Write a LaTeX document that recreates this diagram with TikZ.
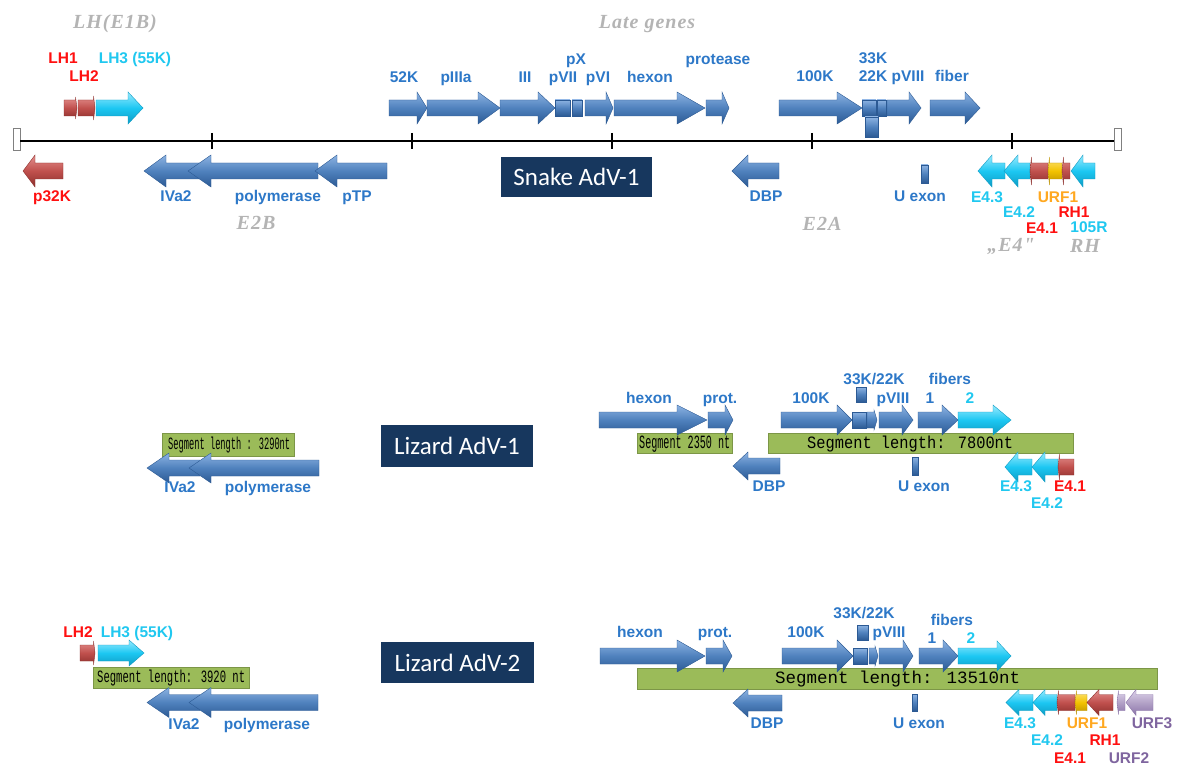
\documentclass[tikz,border=0pt]{standalone}
\usepackage{fontspec}
\setmainfont{Liberation Sans}
\newfontfamily\carl{Carlito}
\newfontfamily\serf{Liberation Serif}[LetterSpace=5]
\newfontfamily\monof{Liberation Mono}
\usepackage{graphicx}
\definecolor{gBlue}{HTML}{4F81BD}
\definecolor{gBlueL}{HTML}{8DB3E2}
\definecolor{gBlueD}{HTML}{2C5A94}
\definecolor{gCyan}{HTML}{1CC7F2}
\definecolor{gCyanL}{HTML}{9AEBFF}
\definecolor{gCyanD}{HTML}{0E9CC4}
\definecolor{gRed}{HTML}{C0504D}
\definecolor{gRedL}{HTML}{E4908E}
\definecolor{gRedD}{HTML}{8C2F2C}
\definecolor{gYel}{HTML}{F2C200}
\definecolor{gYelL}{HTML}{FFE680}
\definecolor{gYelD}{HTML}{B88E00}
\definecolor{gPur}{HTML}{B3A2C7}
\definecolor{gPurL}{HTML}{DDD3EA}
\definecolor{gPurD}{HTML}{8A73A8}
\definecolor{tBlue}{HTML}{2D78C8}
\definecolor{tCyan}{HTML}{20C8F0}
\definecolor{tRed}{HTML}{FF1010}
\definecolor{tOrg}{HTML}{FFA820}
\definecolor{tPur}{HTML}{7F659F}
\definecolor{tGray}{HTML}{B4B4B4}
\definecolor{navy}{HTML}{17375E}
\definecolor{segG}{HTML}{9BBB59}
% gene arrow: style, tail x, tip x, centre y, head length, head half-height
\newcommand\gene[6]{%
  \pgfmathsetmacro\gS{(#3>#2)*2-1}%
  \pgfmathsetmacro\gH{#3-\gS*#5}%
  \path[#1] (#2,#4-8) -- (\gH,#4-8) -- (\gH,#4-#6) -- (#3,#4) -- (\gH,#4+#6) -- (\gH,#4+8) -- (#2,#4+8) -- cycle;}
% gene box: style, x1, x2, centre y, half-height
\newcommand\gbox[5]{\path[#1] (#2,#4-#5) rectangle (#3,#4+#5);}
\tikzset{
  gb/.style={top color=gBlueL, bottom color=gBlueD, middle color=gBlue, draw=gBlueD, line width=0.4pt},
  gc/.style={top color=gCyanL, bottom color=gCyanD, middle color=gCyan, draw=gCyanD, line width=0.4pt},
  gr/.style={top color=gRedL, bottom color=gRedD, middle color=gRed, draw=gRedD, line width=0.4pt},
  gy/.style={top color=gYelL, bottom color=gYelD, middle color=gYel, draw=gYelD, line width=0.4pt},
  gp/.style={top color=gPurL, bottom color=gPurD, middle color=gPur, draw=gPurD, line width=0.4pt},
  lab/.style={inner sep=0pt, anchor=base, yshift=-5.5pt, font=\fontsize{15.5}{16}\selectfont\bfseries},
  lb/.style={lab, text=tBlue},
  lc/.style={lab, text=tCyan},
  lr/.style={lab, text=tRed},
  lo/.style={lab, text=tOrg},
  lpu/.style={lab, text=tPur},
  lg/.style={inner sep=0pt, anchor=base, yshift=-6.6pt, text=tGray, font=\serf\fontsize{20}{20}\selectfont\bfseries\itshape},
  ttl/.style={fill=navy, text=white, inner sep=0pt, font=\carl\fontsize{25}{25}\selectfont},
  segbox/.style={fill=segG, draw=segG!80!black, line width=0.3pt, inner sep=0pt},
  segtxt/.style={inner sep=0pt, anchor=west, yshift=-1pt},
  capbox/.style={draw=gray, fill=white, line width=0.8pt, inner sep=0pt, minimum width=7pt, minimum height=22pt},
  tick/.style={line width=1.3pt}
}
\begin{document}
\begin{tikzpicture}[x=1pt,y=-1pt]
\useasboundingbox[fill=white] (0,0) rectangle (1181,765);

% ================= Snake AdV-1 =================
\node[capbox] (capL) at (16.5,139.5) {};
\node[capbox] (capR) at (1118,139.5) {};
\draw[line width=1.6pt] (capL.east |- 0,141) -- (capR.west |- 0,141);
\foreach \t in {212,412,612,812,1012} \draw[tick] (\t,133) -- (\t,149);

% top genes
\gene{gr}{64}{77}{108}{1.5}{11}
\gene{gr}{78}{95}{108}{1.5}{12}
\gene{gc}{96}{143}{108}{15}{16}
\gene{gb}{389}{427}{108}{10}{16}
\gene{gb}{427}{500}{108}{22}{16}
\gene{gb}{500}{555}{108}{17}{16}
\gbox{gb}{555}{570}{108}{8}
\gbox{gb}{572}{582}{108}{8}
\gene{gb}{585}{613}{108}{7}{16}
\gene{gb}{614}{705}{108}{28}{16}
\gene{gb}{706}{729}{108}{7}{16}
\gene{gb}{779}{862}{108}{25}{16}
\gbox{gb}{862}{876}{108}{8}
\gbox{gb}{877}{886}{108}{8}
\gbox{gb}{865}{878}{127}{10}
\gene{gb}{887}{921}{108}{12}{16}
\gene{gb}{930}{980}{108}{15}{16}

% bottom genes
\gene{gr}{63}{23}{171}{12}{16}
\gene{gb}{200}{144}{171}{22}{16}
\gene{gb}{318}{188}{171}{23}{16}
\gene{gb}{387}{315}{171}{22}{16}
\gene{gb}{779}{732}{171}{16}{16}
\gbox{gb}{921}{928}{174}{9}
\gene{gc}{1005}{978}{171}{14}{16}
\gene{gc}{1030}{1004}{171}{14}{16}
\gene{gr}{1048}{1030}{171}{1.5}{14}
\gene{gy}{1062}{1048}{171}{1.5}{14}
\gene{gr}{1070}{1062}{171}{1.5}{14}
\gene{gc}{1095}{1071}{171}{12}{16}

\node[ttl, minimum width=151pt, minimum height=40pt] (snake) at (576.5,177) {Snake AdV-1};

% labels
\node[lg] (gLH) at (115,22) {LH(E1B)};
\node[lg] (gLate) at (647,22) {Late genes};
\node[lg] (gE2B) at (256,223) {E2B};
\node[lg] (gE2A) at (822,224) {E2A};
\node[lg] (gE4) at (1011,245) {„E4"};
\node[lg] (gRH) at (1085,246) {RH};

\node[lr] (sLH1) at (63,58) {LH1};
\node[lr] (sLH2) at (84,76) {LH2};
\node[lc] (sLH3) at (135,58) {LH3 (55K)};
\node[lb] (s52K) at (404,77) {52K};
\node[lb] (spIIIa) at (456,77) {pIIIa};
\node[lb] (sIII) at (525,77) {III};
\node[lb] (spX) at (576,59) {pX};
\node[lb] (spVII) at (563,77) {pVII};
\node[lb] (spVI) at (598,77) {pVI};
\node[lb] (shexon) at (650,77) {hexon};
\node[lb] (sprot) at (718,59) {protease};
\node[lb] (s100K) at (815,76) {100K};
\node[lb] (s33K) at (873,58) {33K};
\node[lb] (s22K) at (873,76) {22K};
\node[lb] (spVIII) at (908,76) {pVIII};
\node[lb] (sfiber) at (952,76) {fiber};

\node[lr] (sp32K) at (52,196) {p32K};
\node[lb] (sIVa2) at (176,196) {IVa2};
\node[lb] (spol) at (278,196) {polymerase};
\node[lb] (spTP) at (357,196) {pTP};
\node[lb] (sDBP) at (766,196) {DBP};
\node[lb] (sUex) at (920,196) {U exon};
\node[lc] (sE43) at (987,197) {E4.3};
\node[lo] (sURF1) at (1058,197) {URF1};
\node[lc] (sE42) at (1019,212) {E4.2};
\node[lr] (sRH1) at (1074,212) {RH1};
\node[lr] (sE41) at (1042,228) {E4.1};
\node[lc] (s105R) at (1089,227) {105R};

% ================= Lizard AdV-1 =================
\node[segbox, minimum width=132pt, minimum height=23pt] (seg1a) at (228,444.5) {};
\node[segtxt] (seg1at) at (168,444.5) {\resizebox{122pt}{12.5pt}{\monof Segment length : 3290nt}};
\node[segbox, minimum width=95pt, minimum height=20pt] (seg1b) at (684.5,443) {};
\node[segtxt] (seg1bt) at (639,443) {\resizebox{91pt}{12.5pt}{\monof Segment  2350 nt}};
\node[segbox, minimum width=305pt, minimum height=20pt] (seg1c) at (920.5,443) {};
\node[segtxt] (seg1ct) at (807,443) {\resizebox{206pt}{12.5pt}{\monof Segment   length:   7800nt}};

\gene{gb}{200}{147}{468}{22}{15}
\gene{gb}{319}{189}{468}{22}{15}
\gene{gb}{599}{707}{420}{30}{15}
\gene{gb}{708}{733}{420}{8}{15}
\gene{gb}{781}{852}{420}{15}{15}
\gbox{gb}{852}{866}{420}{8}
\gbox{gb}{856}{866}{394.5}{7.5}
\gene{gb}{867}{877}{420}{3}{10}
\gene{gb}{879}{913}{420}{11}{15}
\gene{gb}{918}{958}{420}{16}{15}
\gene{gc}{958}{1011}{420}{18}{15}
\gene{gb}{780}{733}{466}{15}{14}
\gbox{gb}{912}{918}{466}{9}
\gene{gc}{1032}{1005}{467}{13}{15}
\gene{gc}{1058}{1032}{467}{13}{15}
\gene{gr}{1074}{1058}{467}{1.5}{13}

\node[ttl, minimum width=152pt, minimum height=42pt] (liz1) at (457,446) {Lizard AdV-1};

\node[lb] (aIVa2) at (180,487) {IVa2};
\node[lb] (apol) at (268,487) {polymerase};
\node[lb] (ahexon) at (649,398) {hexon};
\node[lb] (aprot) at (720,398) {prot.};
\node[lb] (a100K) at (811,398) {100K};
\node[lb] (a3322) at (874,379) {33K/22K};
\node[lb] (apVIII) at (893,398) {pVIII};
\node[lb] (afibers) at (950,379) {fibers};
\node[lb] (af1) at (930,398) {1};
\node[lc] (af2) at (970,398) {2};
\node[lb] (aDBP) at (769,486) {DBP};
\node[lb] (aUex) at (924,486) {U exon};
\node[lc] (aE43) at (1016,486) {E4.3};
\node[lr] (aE41) at (1070,486) {E4.1};
\node[lc] (aE42) at (1047,503) {E4.2};

% ================= Lizard AdV-2 =================
\node[segbox, minimum width=156pt, minimum height=21pt] (seg2a) at (171,677.5) {};
\node[segtxt] (seg2at) at (97,677.5) {\resizebox{148pt}{12.5pt}{\monof Segment length: 3920 nt}};
\node[segbox, minimum width=520pt, minimum height=21pt] (seg2b) at (897.5,678.5) {};
\node[segtxt] (seg2bt) at (775,678.5) {\resizebox{245pt}{12.5pt}{\monof Segment   length:   13510nt}};

\gene{gr}{80}{95}{653}{1.5}{12}
\gene{gc}{98}{144}{653}{15}{13}
\gene{gb}{200}{147}{702.5}{22}{15}
\gene{gb}{318}{189}{702.5}{22}{15}
\gene{gb}{600}{705}{656}{28}{16}
\gene{gb}{706}{732}{656}{9}{16}
\gene{gb}{782}{853}{656}{16}{16}
\gbox{gb}{853}{867}{656}{8}
\gbox{gb}{857}{868}{632.5}{7.5}
\gene{gb}{869}{878}{656}{3}{10}
\gene{gb}{879}{913}{656}{10}{16}
\gene{gb}{919}{958}{656}{15}{16}
\gene{gc}{958}{1011}{656}{14}{15}
\gene{gb}{782}{733}{703}{15}{14}
\gbox{gb}{912}{917}{702.5}{8.5}
\gene{gc}{1033}{1006}{702.5}{13}{13}
\gene{gc}{1057}{1033}{702.5}{12}{13}
\gene{gr}{1075}{1057}{702.5}{1.5}{12}
\gene{gy}{1087}{1075}{702.5}{1.5}{12}
\gene{gr}{1113}{1087}{702.5}{12}{13}
\gene{gp}{1125}{1117}{702.5}{1.5}{12}
\gene{gp}{1153}{1126}{702.5}{10}{13}

\node[ttl, minimum width=153pt, minimum height=41pt] (liz2) at (457.5,662.5) {Lizard AdV-2};

\node[lr] (bLH2) at (78,632) {LH2};
\node[lc] (bLH3) at (137,632) {LH3 (55K)};
\node[lb] (bIVa2) at (184,724) {IVa2};
\node[lb] (bpol) at (267,724) {polymerase};
\node[lb] (bhexon) at (640,632) {hexon};
\node[lb] (bprot) at (715,632) {prot.};
\node[lb] (b100K) at (806,632) {100K};
\node[lb] (b3322) at (864,613) {33K/22K};
\node[lb] (bpVIII) at (889,632) {pVIII};
\node[lb] (bfibers) at (952,620) {fibers};
\node[lb] (bf1) at (932,638) {1};
\node[lc] (bf2) at (971,638) {2};
\node[lb] (bDBP) at (767,723) {DBP};
\node[lb] (bUex) at (919,723) {U exon};
\node[lc] (bE43) at (1020,723) {E4.3};
\node[lo] (bURF1) at (1087,723) {URF1};
\node[lpu] (bURF3) at (1152,723) {URF3};
\node[lc] (bE42) at (1047,740) {E4.2};
\node[lr] (bRH1) at (1105,740) {RH1};
\node[lr] (bE41) at (1070,758) {E4.1};
\node[lpu] (bURF2) at (1129,758) {URF2};
\end{tikzpicture}
\end{document}
